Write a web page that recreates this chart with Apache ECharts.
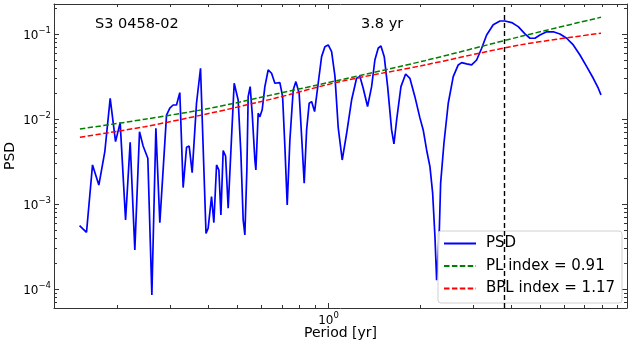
<!DOCTYPE html>
<html>
<head>
<meta charset="utf-8">
<title>S3 0458-02 PSD</title>
<script src="https://cdn.jsdelivr.net/npm/echarts@6/dist/echarts.min.js"></script>
<style>
  html, body { margin: 0; padding: 0; background: #fff; }
  #chart { width: 631px; height: 344px; }
</style>
</head>
<body>
<div id="chart"></div>
<script>
// periodogram: period [yr] -> PSD
var psdPeriod = [
  0.1506, 0.1588, 0.1662, 0.1744, 0.1825, 0.1901, 0.1980, 0.2051, 0.2137, 0.2213,
  0.2293, 0.2376, 0.2442, 0.2531, 0.2610, 0.2691, 0.2773, 0.2918, 0.2992, 0.3068,
  0.3148, 0.3228, 0.3311, 0.3398, 0.3466, 0.3546, 0.3665, 0.3779, 0.3940, 0.4004,
  0.4109, 0.4182, 0.4269, 0.4345, 0.4412, 0.4489, 0.4572, 0.4663, 0.4785, 0.4881,
  0.4955, 0.5031, 0.5136, 0.5227, 0.5294, 0.5375, 0.5429, 0.5512, 0.5597, 0.5713,
  0.5756, 0.5858, 0.5934, 0.6039, 0.6164, 0.6321, 0.6486, 0.6651, 0.6909, 0.7054,
  0.7178, 0.7305, 0.7456, 0.7646, 0.7804, 0.8000, 0.8188, 0.8313, 0.8467, 0.8634,
  0.8795, 0.8997, 0.9247, 0.9489, 0.9730, 0.998, 1.024, 1.050, 1.077, 1.110,
  1.148, 1.192, 1.238, 1.270, 1.302, 1.346, 1.388, 1.423, 1.459, 1.490,
  1.528, 1.568, 1.616, 1.645, 1.679, 1.735, 1.798, 1.857, 1.929, 2.004,
  2.055, 2.109, 2.163, 2.208, 2.247, 2.276, 2.322, 2.346, 2.406, 2.486,
  2.582, 2.682, 2.753, 2.859, 2.970, 3.085, 3.205, 3.329, 3.500, 3.684,
  3.826, 4.027, 4.233, 4.455, 4.628, 4.807, 4.993, 5.255, 5.526, 5.814,
  6.117, 6.433, 6.769, 7.124, 7.490, 7.780, 7.943
];
var psdValue = [
  5.56e-4, 4.65e-4, 2.88e-3, 1.67e-3, 4.12e-3, 0.0175, 5.41e-3, 9.05e-3, 6.48e-4, 5.32e-3,
  2.88e-4, 7.09e-3, 4.81e-3, 3.45e-3, 8.5e-5, 7.78e-3, 6.03e-4, 0.0111, 0.0134, 0.0146,
  0.0146, 0.0204, 1.56e-3, 4.65e-3, 4.81e-3, 2.34e-3, 0.0153, 0.0395, 4.50e-4, 5.18e-4,
  1.22e-3, 6.03e-4, 2.88e-3, 2.51e-3, 7.43e-4, 4.24e-3, 3.67e-3, 8.9e-4, 6.19e-3, 0.0263,
  0.0251, 0.0167, 3.95e-3, 6.48e-4, 4.32e-4, 2.51e-3, 0.0183, 0.0240, 0.0117, 3.29e-3,
  2.51e-3, 0.0117, 0.0106, 0.0128, 0.0240, 0.0377, 0.0345, 0.0263, 0.0267, 0.0183,
  4.72e-3, 9.73e-4, 5.66e-3, 0.0219, 0.0275, 0.0201, 4.72e-3, 1.75e-3, 7.43e-3, 0.0153,
  0.0160, 0.0122, 0.0263, 0.0541, 0.0709, 0.0742, 0.0619, 0.0321, 7.84e-3, 3.29e-3,
  6.79e-3, 0.0167, 0.0301, 0.0315, 0.0230, 0.0140, 0.0240, 0.0494, 0.0679, 0.0723,
  0.0541, 0.0240, 7.43e-3, 5.08e-3, 9.73e-3, 0.0240, 0.0338, 0.0301, 0.0183, 0.0103,
  7.43e-3, 4.32e-3, 2.75e-3, 1.34e-3, 4.12e-4, 1.27e-4, 4.68e-4, 1.75e-3, 5.18e-3, 0.0153,
  0.0315, 0.0432, 0.0460, 0.0444, 0.0432, 0.0494, 0.0679, 0.0973, 0.128, 0.142,
  0.142, 0.136, 0.122, 0.100, 0.0890, 0.0890, 0.0973, 0.106, 0.106, 0.100,
  0.0890, 0.0742, 0.0566, 0.0412, 0.0301, 0.0230, 0.0192
];

// fitted models
var fitPeriod = [0.151, 0.2474, 0.4057, 0.6651, 1.091, 2.082, 4.288, 7.943];
var plValue = [7.63e-3, 9.92e-3, 0.01336, 0.01953, 0.02876, 0.04852, 0.0929, 0.1572];
var bplValue = [6.09e-3, 8.12e-3, 0.01167, 0.01752, 0.02747, 0.04318, 0.0742, 0.1019];

var peakPeriod = 3.8;

// axis ranges and minor ticks
var xRange = [0.124, 9.68];
var yRange = [5.98e-5, 0.225];
var xMinorTicks = [0.2, 0.3, 0.4, 0.5, 0.6, 0.7, 0.8, 0.9, 2, 3, 4, 5, 6, 7, 8, 9];
var yMinorTicks = [
  7e-5, 8e-5, 9e-5,
  2e-4, 3e-4, 4e-4, 5e-4, 6e-4, 7e-4, 8e-4, 9e-4,
  2e-3, 3e-3, 4e-3, 5e-3, 6e-3, 7e-3, 8e-3, 9e-3,
  0.02, 0.03, 0.04, 0.05, 0.06, 0.07, 0.08, 0.09,
  0.2
];

var FONT = 'DejaVu Sans';
var AXIS_COLOR = '#333';

function zip(xs, ys) {
  var out = [];
  for (var i = 0; i < xs.length; i++) out.push([xs[i], ys[i]]);
  return out;
}

// only label the powers of ten, as 10^n
function powLabel(v) {
  var e = Math.log10(v);
  var r = Math.round(e);
  if (Math.abs(e - r) > 1e-6) return '';
  return '{b|10}{s|' + (r < 0 ? '\u2212' + (-r) : r) + '}';
}

var labelRich = {
  b: { fontFamily: FONT, fontSize: 12, color: '#000', lineHeight: 16, verticalAlign: 'bottom' },
  s: { fontFamily: FONT, fontSize: 8.5, color: '#000', lineHeight: 9, verticalAlign: 'top' }
};

// minor ticks on all four sides, drawn through the axes' own scales
function minorTicks(values, isX) {
  return {
    type: 'custom',
    silent: true,
    z: 5,
    data: values.map(function (v) { return isX ? [v, yRange[0]] : [xRange[0], v]; }),
    renderItem: function (params, api) {
      var style = { stroke: AXIS_COLOR, lineWidth: 1 };
      var v = isX ? api.value(0) : api.value(1);
      if (isX) {
        var b = api.coord([v, yRange[0]]);
        var t = api.coord([v, yRange[1]]);
        var x = Math.round(b[0]) + 0.5;
        return { type: 'group', children: [
          { type: 'line', shape: { x1: x, y1: b[1], x2: x, y2: b[1] - 3 }, style: style },
          { type: 'line', shape: { x1: x, y1: t[1], x2: x, y2: t[1] + 3 }, style: style }
        ] };
      }
      var l = api.coord([xRange[0], v]);
      var r = api.coord([xRange[1], v]);
      var y = Math.round(l[1]) + 0.5;
      return { type: 'group', children: [
        { type: 'line', shape: { x1: l[0], y1: y, x2: l[0] + 3, y2: y }, style: style },
        { type: 'line', shape: { x1: r[0], y1: y, x2: r[0] - 3, y2: y }, style: style }
      ] };
    }
  };
}

function xAxisOpt(pos, showLabel) {
  return {
    type: 'log',
    logBase: 10,
    position: pos,
    min: xRange[0],
    max: xRange[1],
    name: showLabel ? 'Period [yr]' : '',
    nameLocation: 'middle',
    nameGap: 18,
    nameMoveOverlap: false,
    nameTextStyle: { fontFamily: FONT, fontSize: 14, color: '#000' },
    axisLine: { show: true, lineStyle: { color: AXIS_COLOR, width: 1 } },
    axisTick: { show: true, inside: true, length: 5, lineStyle: { color: AXIS_COLOR } },
    axisLabel: { show: showLabel, margin: 3, formatter: powLabel, rich: labelRich },
    splitLine: { show: false }
  };
}

function yAxisOpt(pos, showLabel) {
  return {
    type: 'log',
    logBase: 10,
    position: pos,
    min: yRange[0],
    max: yRange[1],
    name: showLabel ? 'PSD' : '',
    nameLocation: 'middle',
    nameGap: 37,
    nameMoveOverlap: false,
    nameTextStyle: { fontFamily: FONT, fontSize: 14, color: '#000' },
    axisLine: { show: true, lineStyle: { color: AXIS_COLOR, width: 1 } },
    axisTick: { show: true, inside: true, length: 5, lineStyle: { color: AXIS_COLOR } },
    axisLabel: { show: showLabel, margin: 3, formatter: powLabel, rich: labelRich },
    splitLine: { show: false }
  };
}

var chart = echarts.init(document.getElementById('chart'), null, { renderer: 'canvas' });

var option = {
  animation: false,
  backgroundColor: '#fff',
  grid: { left: 54, right: 4, top: 4, bottom: 36, containLabel: false, outerBoundsMode: 'none' },
  xAxis: [xAxisOpt('bottom', true), xAxisOpt('top', false)],
  yAxis: [yAxisOpt('left', true), yAxisOpt('right', false)],
  legend: {
    data: ['PSD', 'PL index = 0.91', 'BPL index = 1.17'],
    orient: 'vertical',
    left: 438,
    top: 231,
    itemWidth: 32,
    itemHeight: 14,
    itemGap: 7.5,
    padding: [5, 7, 7, 5],
    backgroundColor: 'rgba(255,255,255,0.85)',
    borderColor: '#d0d0d0',
    borderWidth: 1,
    borderRadius: 3,
    itemStyle: { opacity: 0 },
    textStyle: { fontFamily: FONT, fontSize: 15, color: '#000', padding: [0, 0, 0, 5] }
  },
  graphic: [
    { type: 'text', left: 95, top: 17, style: { text: 'S3 0458-02', font: '14.5px "DejaVu Sans"', fill: '#000' } },
    { type: 'text', left: 361, top: 17, style: { text: '3.8 yr', font: '14.5px "DejaVu Sans"', fill: '#000' } }
  ],
  series: [
    {
      name: 'PSD',
      type: 'line',
      data: zip(psdPeriod, psdValue),
      symbol: 'none',
      z: 3,
      lineStyle: { color: '#0000ff', width: 1.7 },
      itemStyle: { color: '#0000ff' },
      markLine: {
        silent: true,
        symbol: ['none', 'none'],
        label: { show: false },
        lineStyle: { color: '#000', type: [5, 3], width: 1.4 },
        data: [{ xAxis: peakPeriod }]
      }
    },
    {
      name: 'PL index = 0.91',
      type: 'line',
      data: zip(fitPeriod, plValue),
      symbol: 'none',
      smooth: 0.3,
      z: 4,
      lineStyle: { color: '#008000', width: 1.5, type: [5.5, 2.4] },
      itemStyle: { color: '#008000' }
    },
    {
      name: 'BPL index = 1.17',
      type: 'line',
      data: zip(fitPeriod, bplValue),
      symbol: 'none',
      smooth: 0.3,
      z: 4,
      lineStyle: { color: '#ff0000', width: 1.5, type: [5.5, 2.4] },
      itemStyle: { color: '#ff0000' }
    },
    minorTicks(xMinorTicks, true),
    minorTicks(yMinorTicks, false)
  ]
};

chart.setOption(option);
window.addEventListener('resize', function () {
  chart.resize();
});
</script>
</body>
</html>
